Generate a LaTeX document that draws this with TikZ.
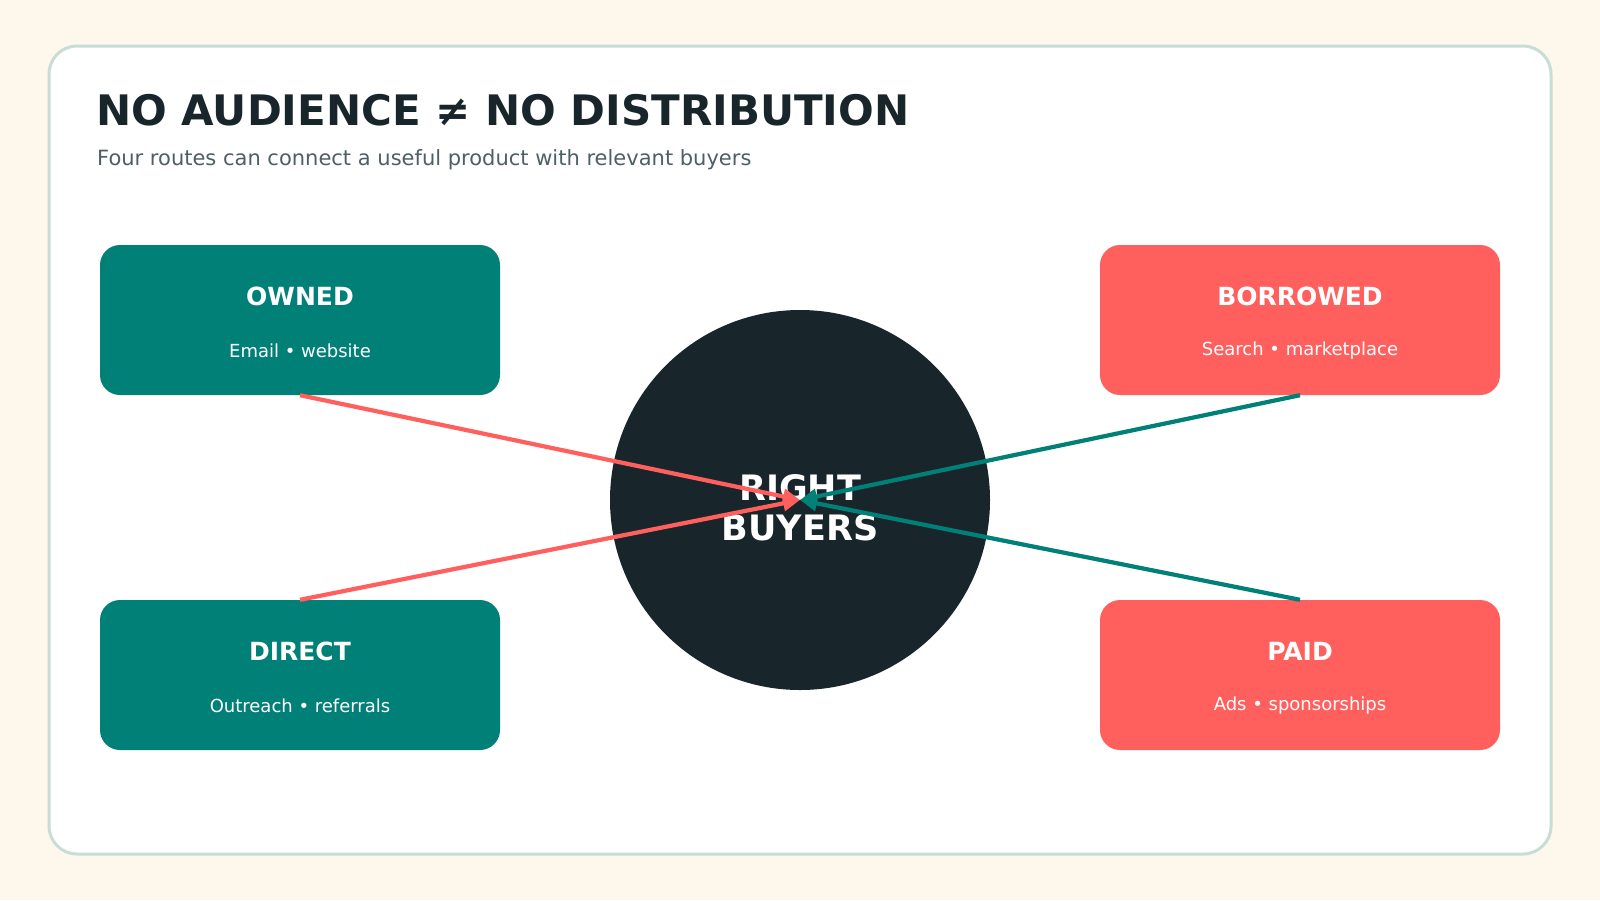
\documentclass[tikz,border=0pt]{standalone}
\usepackage{fontspec}
\setmainfont{DejaVu Sans}
\usetikzlibrary{arrows.meta}

\definecolor{cream}{HTML}{FEF7EC}
\definecolor{cardline}{HTML}{C8DDD6}
\definecolor{routeteal}{HTML}{008077}
\definecolor{routecoral}{HTML}{FF5F5D}
\definecolor{ink}{HTML}{18262B}
\definecolor{subgray}{HTML}{4F5F64}

\tikzset{
  routebox/.style={rounded corners=20pt, minimum width=400pt, minimum height=150pt, inner sep=0pt},
  routename/.style={anchor=base, white, font=\fontsize{25}{30}\selectfont\bfseries},
  routenote/.style={anchor=base, white, font=\fontsize{18}{22}\selectfont},
  flow/.style={line width=4.2pt, -{Triangle[length=17pt,width=15pt]}}
}

\begin{document}
\begin{tikzpicture}[x=1pt, y=-1pt]
  \fill[cream] (0,0) rectangle (1600,900);
  \useasboundingbox (0,0) rectangle (1600,900);

  % card
  \draw[cardline, line width=3pt, fill=white, rounded corners=28pt] (49,46) rectangle (1551,854);

  \node[anchor=base west, ink, inner sep=0pt, font=\fontsize{42}{50}\selectfont\bfseries] (title) at (96,125) {NO AUDIENCE ≠ NO DISTRIBUTION};
  \node[anchor=base west, subgray, inner sep=0pt, font=\fontsize{21}{24}\selectfont] (subtitle) at (97,165) {Four routes can connect a useful product with relevant buyers};

  % the four routes
  \node[routebox, fill=routeteal] (owned) at (300,320) {};
  \node[routename] at (300,305) {OWNED};
  \node[routenote] at (300,357) {Email • website};

  \node[routebox, fill=routecoral] (borrowed) at (1300,320) {};
  \node[routename] at (1300,305) {BORROWED};
  \node[routenote] at (1300,355) {Search • marketplace};

  \node[routebox, fill=routeteal] (direct) at (300,675) {};
  \node[routename] at (300,660) {DIRECT};
  \node[routenote] at (300,712) {Outreach • referrals};

  \node[routebox, fill=routecoral] (paid) at (1300,675) {};
  \node[routename] at (1300,660) {PAID};
  \node[routenote] at (1300,710) {Ads • sponsorships};

  % buyers
  \node[circle, fill=ink, minimum size=380pt, inner sep=0pt] (hub) at (800,500) {};
  \node[anchor=base, white, font=\fontsize{35}{40}\selectfont\bfseries] at (800,500) {RIGHT};
  \node[anchor=base, white, font=\fontsize{35}{40}\selectfont\bfseries] at (800,540) {BUYERS};

  \draw[flow, routecoral] (owned.south) -- (hub.center);
  \draw[flow, routecoral] (direct.north) -- (hub.center);
  \draw[flow, routeteal] (borrowed.south) -- (hub.center);
  \draw[flow, routeteal] (paid.north) -- (hub.center);

\end{tikzpicture}
\end{document}
